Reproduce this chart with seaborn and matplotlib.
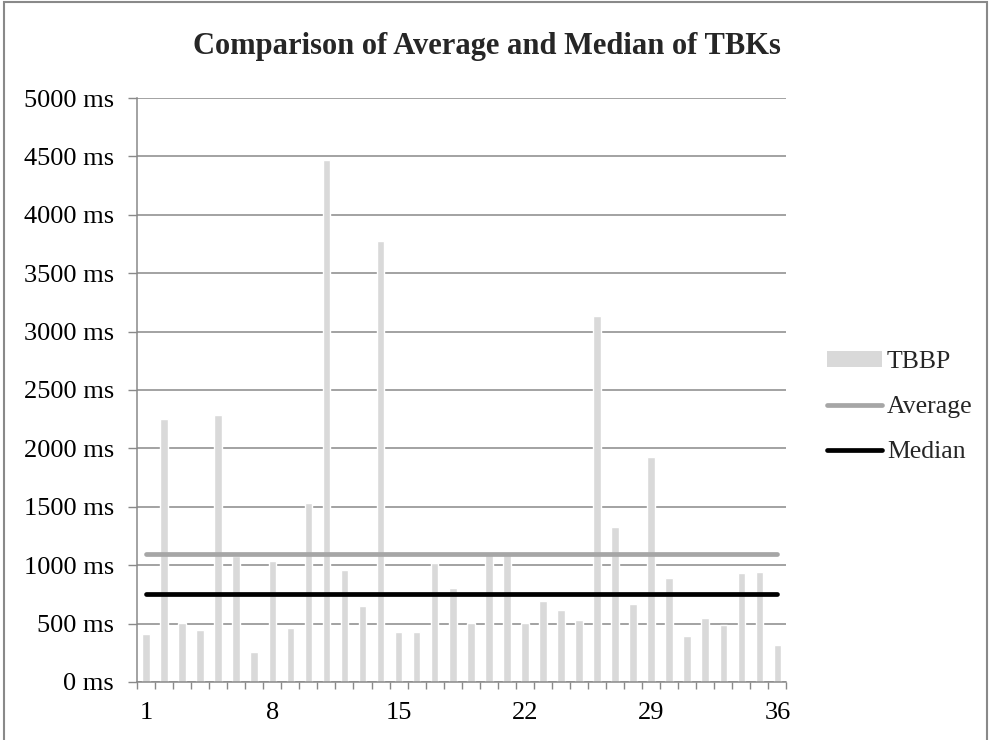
import matplotlib
matplotlib.use("Agg")
import matplotlib.pyplot as plt
from matplotlib.patches import Rectangle, Patch
from matplotlib.lines import Line2D
import seaborn as sns
import pandas as pd

# Time between keystrokes per run (ms)
runs = list(range(1, 37))
tbbp_ms = [409, 2251, 507, 442, 2290, 1080, 252, 1037, 458, 1535,
           4467, 955, 654, 3776, 425, 425, 1021, 808, 507, 1090,
           1090, 507, 694, 618, 527, 3135, 1325, 671, 1927, 890,
           389, 546, 491, 936, 942, 317]
average_ms = 1095
median_ms = 755

x_tick_labels = [1, 8, 15, 22, 29, 36]
y_ticks = [0, 500, 1000, 1500, 2000, 2500, 3000, 3500, 4000, 4500, 5000]

bar_color = "#d9d9d9"
avg_color = "#a6a6a6"
med_color = "#000000"
grid_color = "#898989"

sns.set_theme(style="white")
plt.rcParams["font.family"] = ["Liberation Serif", "DejaVu Serif"]

fig = plt.figure(figsize=(9.9, 7.4), dpi=100)
ax = fig.add_axes([0.1384, 0.0785, 0.656, 0.789])

df = pd.DataFrame({"run": runs, "TBBP": tbbp_ms})
sns.barplot(data=df, x="run", y="TBBP", native_scale=True, width=0.42,
            color=bar_color, saturation=1, ax=ax, zorder=2)

lines = pd.DataFrame({
    "run": [runs[0], runs[-1], runs[0], runs[-1]],
    "value": [average_ms, average_ms, median_ms, median_ms],
    "series": ["Average", "Average", "Median", "Median"],
})
sns.lineplot(data=lines, x="run", y="value", hue="series",
             palette={"Average": avg_color, "Median": med_color},
             linewidth=3.4, ax=ax, legend=False, zorder=3)
for ln in ax.get_lines():
    ln.set_solid_capstyle("round")

ax.set_xlim(0.5, 36.5)
ax.set_ylim(0, 5000)
ax.set_yticks(y_ticks)
ax.set_yticklabels([f"{v} ms" for v in y_ticks])
ax.set_xticks(x_tick_labels)
ax.set_xticklabels([str(v) for v in x_tick_labels])
ax.set_xticks([r - 0.5 for r in runs] + [runs[-1] + 0.5], minor=True)
ax.tick_params(axis="x", which="major", length=0, labelsize=19, pad=14.5)
ax.tick_params(axis="x", which="minor", length=5, width=1, color=grid_color,
               direction="out", bottom=True)
ax.tick_params(axis="y", which="major", length=6.5, width=1, color=grid_color,
               direction="out", left=True, labelsize=19, pad=10)
ax.set_xlabel("")
ax.set_ylabel("")

ax.yaxis.grid(True, color=grid_color, linewidth=1.1)
ax.set_axisbelow(True)
for side in ("top", "right"):
    ax.spines[side].set_visible(False)
for side in ("left", "bottom"):
    ax.spines[side].set_color(grid_color)
    ax.spines[side].set_linewidth(1.1)

for lbl in ax.get_xticklabels() + ax.get_yticklabels():
    lbl.set_color("black")

fig.text(0.492, 0.937, "Comparison of Average and Median of TBKs",
         ha="center", va="center", fontsize=22, fontweight="bold")

handles = [
    Patch(facecolor=bar_color, edgecolor="none", label="TBBP"),
    Line2D([0], [0], color=avg_color, lw=3.4, solid_capstyle="round", label="Average"),
    Line2D([0], [0], color=med_color, lw=3.4, solid_capstyle="round", label="Median"),
]
fig.legend(handles=handles, loc="center left", bbox_to_anchor=(0.835, 0.45),
           frameon=False, fontsize=18.5, handlelength=2.15, handleheight=0.55,
           handletextpad=0.2, labelspacing=0.9, borderaxespad=0, borderpad=0)

# figure frame
fig.patches.append(Rectangle((0.004, -0.01), 0.993, 1.007, transform=fig.transFigure,
                             fill=False, edgecolor="#898989", linewidth=1.5))

fig.savefig("out.png", dpi=100)
